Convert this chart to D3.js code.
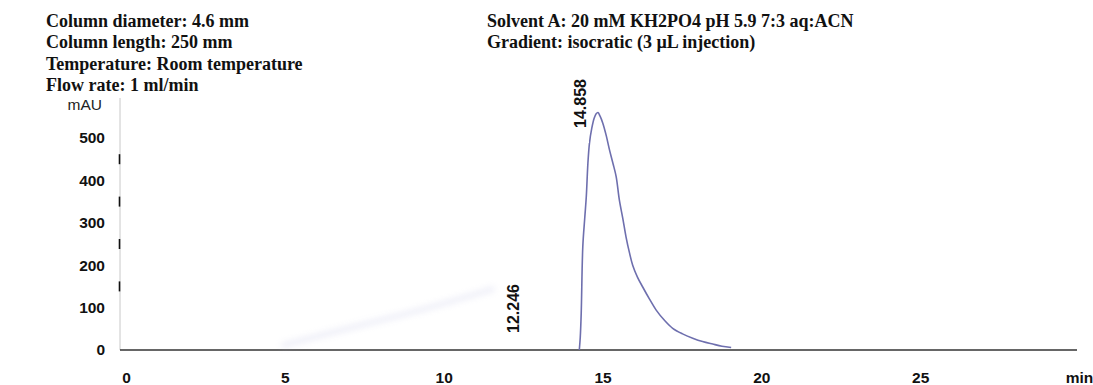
<!DOCTYPE html>
<html>
<head>
<meta charset="utf-8">
<script src="https://cdn.jsdelivr.net/npm/d3@7"></script>
<style>
  body { margin: 0; background: #fff; }
  .cond { font-family: "Liberation Serif", "Times New Roman", serif; font-weight: bold; font-size: 18px; fill: #111; }
  .tick text { font-family: "Liberation Sans", Arial, sans-serif; font-weight: bold; font-size: 15.5px; fill: #111; }
  .unit { font-family: "Liberation Sans", Arial, sans-serif; font-size: 15.5px; fill: #222; }
  .peak { font-family: "Liberation Sans", Arial, sans-serif; font-weight: bold; font-size: 16px; fill: #111; }
</style>
</head>
<body>
<svg id="chart" width="1093" height="385"></svg>
<script>
// run conditions printed above the trace
var conditions_left = [
	"Column diameter: 4.6 mm",
	"Column length: 250 mm",
	"Temperature: Room temperature",
	"Flow rate: 1 ml/min"
];
var conditions_right = [
	"Solvent A: 20 mM KH2PO4 pH 5.9 7:3 aq:ACN",
	"Gradient: isocratic (3 \u00b5L injection)"
];

// axis ticks
var time_ticks = [0, 5, 10, 15, 20, 25];
var time_unit = "min";
var mau_ticks = [0, 100, 200, 300, 400, 500];
var mau_marks = [150, 250, 350, 450];

// detector trace (min, mAU)
var trace_time = [14.27, 14.30, 14.33, 14.38, 14.44, 14.49, 14.54, 14.59, 14.66, 14.74, 14.80, 14.858,
	14.92, 15.01, 15.12, 15.22, 15.33, 15.43, 15.53, 15.64, 15.74, 15.85, 15.95, 16.10, 16.27,
	16.48, 16.69, 16.95, 17.21, 17.52, 17.84, 18.15, 18.47, 18.76, 19.05];
var trace_mau = [0, 30, 87, 244, 310, 362, 440, 488, 522, 547, 557, 560,
	552, 535, 505, 472, 440, 409, 354, 310, 267, 229, 200, 172, 148,
	120, 94, 70, 51, 38, 28, 20, 14, 9, 6];

// faint drift smear under the early part of the run
var drift_time = [4.9, 6.5, 8.0, 9.5, 11.6];
var drift_mau = [10, 42, 70, 98, 145];

// integrated peak labels
var peak_times = [12.246, 14.858];
var peak_dx = [-2, -18];

var svg = d3.select("#chart");
svg.append("rect").attr("width", 1093).attr("height", 385).attr("fill", "#fff");

var x = d3.scaleLinear().domain([0, 30]).range([126, 1079]);
var y = d3.scaleLinear().domain([0, 500]).range([350, 138]);

function write_block(lines, left, top, step) {
	svg.append("g").selectAll("text").data(lines).enter().append("text")
		.attr("class", "cond")
		.attr("x", left)
		.attr("y", function(d, i) { return top + i * step; })
		.text(function(d) { return d; });
}
write_block(conditions_left, 46, 27, 21.3);
write_block(conditions_right, 487, 27, 21.3);

// left axis: light rule with short black marks between the labels
svg.append("line")
	.attr("x1", 120).attr("x2", 120)
	.attr("y1", 98).attr("y2", y(0))
	.attr("stroke", "#c8c8c8").attr("stroke-width", 1);

svg.append("g").selectAll("line").data(mau_marks).enter().append("line")
	.attr("x1", 119.5).attr("x2", 119.5)
	.attr("y1", function(d) { return y(d) - 5; })
	.attr("y2", function(d) { return y(d) + 5; })
	.attr("stroke", "#111").attr("stroke-width", 1.6);

var y_axis = svg.append("g")
	.attr("transform", "translate(120,0)")
	.call(d3.axisLeft(y).tickValues(mau_ticks).tickSize(0).tickPadding(15).tickFormat(d3.format("d")));
y_axis.select(".domain").remove();

svg.append("text").attr("class", "unit")
	.attr("x", 102).attr("y", 110)
	.attr("text-anchor", "end")
	.text("mAU");

// time axis
var x_axis = svg.append("g")
	.attr("transform", "translate(0," + y(0) + ")")
	.call(d3.axisBottom(x).tickValues(time_ticks.concat([30])).tickSize(0).tickPadding(22)
		.tickFormat(function(d) { return d == 30 ? time_unit : d; }));
x_axis.select(".domain").remove();

svg.append("line")
	.attr("x1", 120).attr("x2", 1077)
	.attr("y1", y(0)).attr("y2", y(0))
	.attr("stroke", "#333").attr("stroke-width", 1.6);

// drift smear
var defs = svg.append("defs");
defs.append("filter").attr("id", "smear")
	.attr("x", "-20%").attr("y", "-50%").attr("width", "140%").attr("height", "200%")
	.append("feGaussianBlur").attr("stdDeviation", 3);

var drift = d3.range(drift_time.length).map(function(i) { return [drift_time[i], drift_mau[i]]; });
svg.append("path")
	.datum(drift)
	.attr("d", d3.line().x(function(d) { return x(d[0]); }).y(function(d) { return y(d[1]); }).curve(d3.curveBasis))
	.attr("fill", "none")
	.attr("stroke", "#c4c6e6")
	.attr("stroke-width", 5)
	.attr("opacity", 0.3)
	.attr("filter", "url(#smear)");

// main trace
var trace = d3.range(trace_time.length).map(function(i) { return [trace_time[i], trace_mau[i]]; });
svg.append("path")
	.datum(trace)
	.attr("d", d3.line().x(function(d) { return x(d[0]); }).y(function(d) { return y(d[1]); }).curve(d3.curveCatmullRom))
	.attr("fill", "none")
	.attr("stroke", "#6e6fae")
	.attr("stroke-width", 1.6);

// retention time labels, the main one on a white plate over the trace
peak_times.forEach(function(t, i) {
	var px = x(t) + peak_dx[i];
	var bottom = i == 1 ? 128 : 333;
	if (i == 1) {
		svg.append("rect")
			.attr("x", px - 8).attr("y", 76)
			.attr("width", 17).attr("height", 67)
			.attr("fill", "#fff");
	}
	svg.append("text").attr("class", "peak")
		.attr("transform", "translate(" + (px + 6) + "," + bottom + ") rotate(-90)")
		.text(d3.format(".3f")(t));
});
</script>
</body>
</html>
